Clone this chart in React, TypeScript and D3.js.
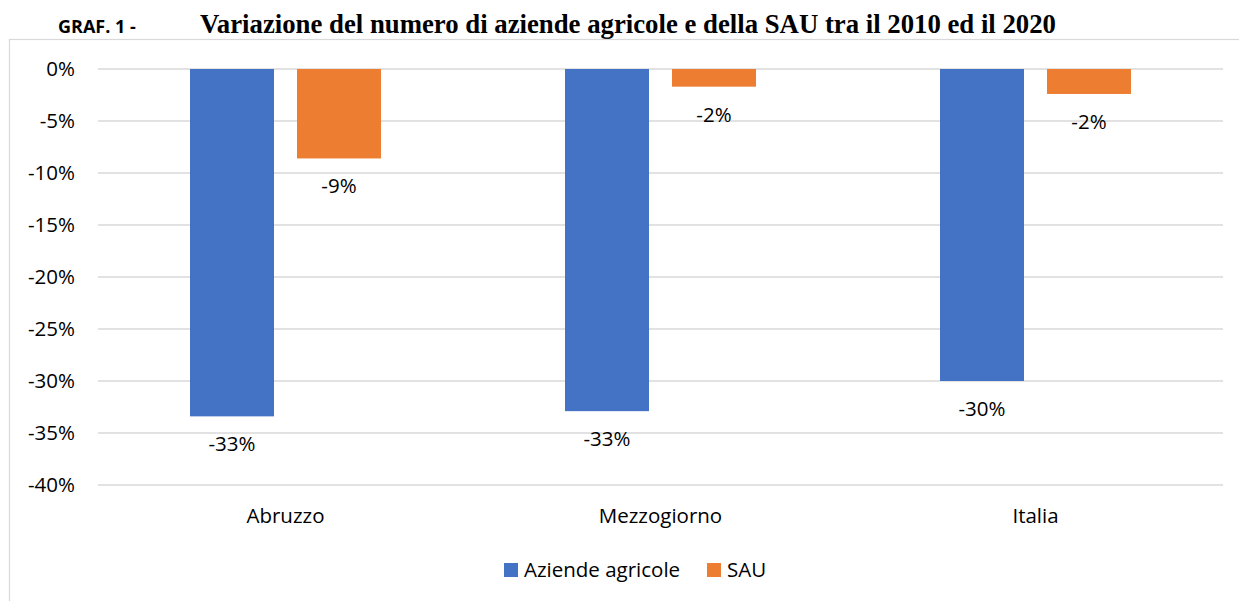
import { formatLocale, range, scaleBand, scaleLinear } from "d3";

const categories = ["Abruzzo", "Mezzogiorno", "Italia"];
const seriesNames = ["Aziende agricole", "SAU"];
const aziende = [-0.334, -0.329, -0.3];
const sau = [-0.086, -0.017, -0.024];
const tickValues = [0, -0.05, -0.1, -0.15, -0.2, -0.25, -0.3, -0.35, -0.4];
const seriesColors = ["#4472C4", "#ED7D31"];

const chartTitle = "Variazione del numero di aziende agricole e della SAU tra il 2010 ed il 2020";
const chartTag = "GRAF. 1 -";

const width = 1239;
const height = 601;
const plotLeft = 98;
const plotRight = 1223;
const plotTop = 69;
const plotBottom = 485;
const labelFont = "'Open Sans', sans-serif";
const labelSize = 20.5;

const pct = formatLocale({
  decimal: ".",
  thousands: ",",
  grouping: [3],
  currency: ["", ""],
  minus: "-"
}).format(".0%");

export default function App(): React.JSX.Element {
  const x0 = scaleBand<string>().domain(categories).range([plotLeft, plotRight]).padding(0);
  const x1 = scaleBand<string>()
    .domain(seriesNames)
    .range([0, x0.bandwidth()])
    .paddingInner(0.215)
    .paddingOuter(0.86);
  const y = scaleLinear().domain([-0.4, 0]).range([plotBottom, plotTop]);
  const values = [aziende, sau];

  return (
    <svg
      width={width}
      height={height}
      viewBox={`0 0 ${width} ${height}`}
      style={{ position: "absolute", left: 0, top: 0, background: "#fff" }}
    >
      <text x={58} y={33} fontFamily={labelFont} fontWeight={700} fontSize={18} fill="#000">
        {chartTag}
      </text>
      <text
        x={200}
        y={33}
        fontFamily="'Liberation Serif', 'Times New Roman', serif"
        fontWeight={700}
        fontSize={27}
        textLength={856}
        lengthAdjust="spacingAndGlyphs"
        fill="#000"
      >
        {chartTitle}
      </text>

      {/* chart area border */}
      <rect x={9.5} y={39.5} width={width + 20} height={height} fill="none" stroke="#d9d9d9" strokeWidth={1.2} />

      {/* gridlines + y ticks */}
      {tickValues.map((t) => (
        <g key={t}>
          <line x1={plotLeft} x2={plotRight} y1={y(t)} y2={y(t)} stroke="#d9d9d9" strokeWidth={1.6} />
          <text
            x={75}
            y={y(t) + 7}
            textAnchor="end"
            fontFamily={labelFont}
            fontSize={labelSize}
            fill="#000"
          >
            {pct(t)}
          </text>
        </g>
      ))}

      {/* bars */}
      {categories.map((cat, ci) => (
        <g key={cat} transform={`translate(${x0(cat)},0)`}>
          {seriesNames.map((s, si) => {
            const v = values[si][ci];
            const bx = x1(s) ?? 0;
            return (
              <g key={s}>
                <rect
                  x={bx}
                  y={y(0)}
                  width={x1.bandwidth()}
                  height={y(v) - y(0)}
                  fill={seriesColors[si]}
                />
                <text
                  x={bx + x1.bandwidth() / 2}
                  y={y(v) + 35}
                  textAnchor="middle"
                  fontFamily={labelFont}
                  fontSize={labelSize}
                  fill="#000"
                >
                  {pct(v)}
                </text>
              </g>
            );
          })}
          <text
            x={x0.bandwidth() / 2}
            y={523}
            textAnchor="middle"
            fontFamily={labelFont}
            fontSize={labelSize}
            fill="#000"
          >
            {cat}
          </text>
        </g>
      ))}

      {/* legend */}
      {range(seriesNames.length).map((i) => {
        const lx = [504, 707][i];
        return (
          <g key={seriesNames[i]}>
            <rect x={lx} y={563} width={14} height={14} fill={seriesColors[i]} />
            <text x={lx + 20} y={577} fontFamily={labelFont} fontSize={labelSize} fill="#000">
              {seriesNames[i]}
            </text>
          </g>
        );
      })}
    </svg>
  );
}
